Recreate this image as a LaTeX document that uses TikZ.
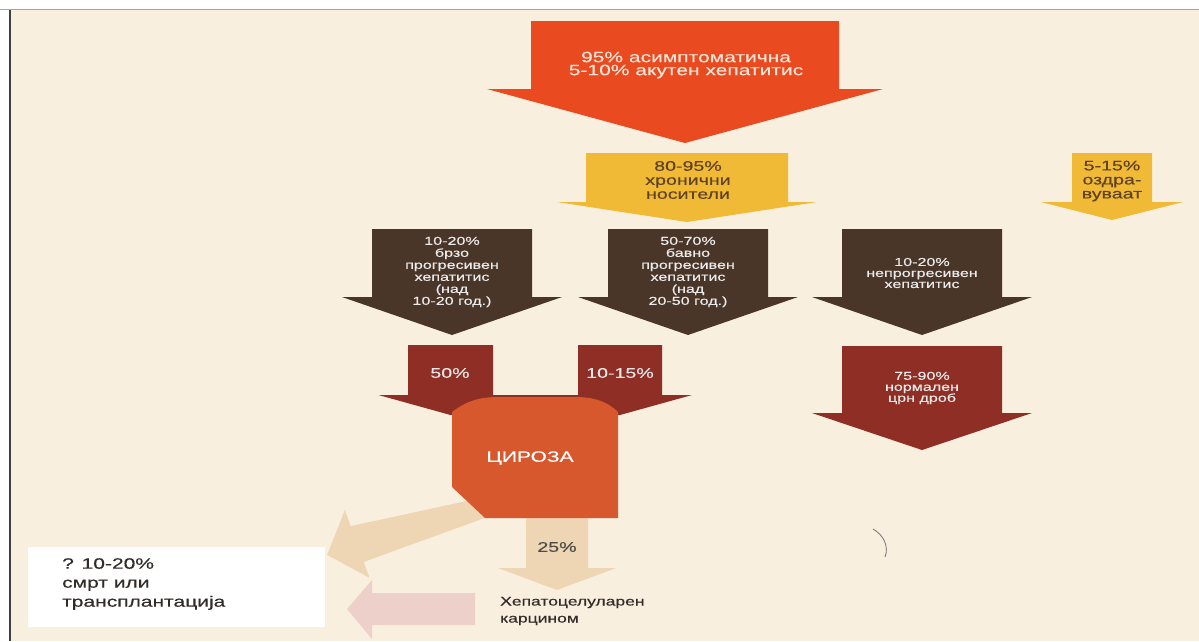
\documentclass[tikz,border=0pt]{standalone}
\usepackage{fontspec}
\setmainfont{Liberation Sans}
\newfontfamily\widesf[FakeStretch=1.4,FakeBold=0.4]{Liberation Sans}
\usepackage{tikz}

\definecolor{cream}{RGB}{248,239,222}
\definecolor{flame}{RGB}{233,74,32}
\definecolor{maize}{RGB}{240,186,54}
\definecolor{umber}{RGB}{74,54,40}
\definecolor{oxblood}{RGB}{142,46,36}
\definecolor{cirrh}{RGB}{216,88,46}
\definecolor{sand}{RGB}{238,213,180}
\definecolor{blush}{RGB}{238,208,202}
\definecolor{ink}{RGB}{48,44,40}

% block arrow pointing down: colour, centre x, top, body half width, shoulder, head half width, tip
\newcommand{\downblock}[7]{%
  \fill[#1] ({#2-#4},#3) -- ({#2+#4},#3) -- ({#2+#4},#5) -- ({#2+#6},#5)
    -- (#2,#7) -- ({#2-#6},#5) -- ({#2-#4},#5) -- cycle;}

\begin{document}
\begin{tikzpicture}[x=1pt,y=-1pt,
    every node/.style={inner sep=0pt,align=center},
    txt/.style 2 args={font=\widesf\fontsize{#1}{#2}\selectfont}]
    \useasboundingbox (0,0) rectangle (1199,641);
    % page
    \fill[white] (0,0) rectangle (1199,641);
    \fill[cream] (10,10) rectangle (1199,641);
    \draw[black!35,line width=1pt] (0,9.5) -- (1199,9.5);
    \draw[black!75,line width=1.2pt] (10,10) -- (10,641);
    % first level
    \downblock{flame}{685}{21}{154}{89}{198}{143}
    \downblock{maize}{687}{153}{101}{202}{130}{222}
    \downblock{maize}{1112}{153}{40}{202}{71}{220}
    % three courses of the chronic infection
    \foreach \x in {452,688,922} \downblock{umber}{\x}{229}{80}{297}{110}{335};
    \downblock{oxblood}{922}{346}{80}{413}{110}{450}
    % pale outlets of the cirrhosis
    \fill[sand] (488.8,496.2) -- (350.7,526.1) -- (344.9,510.2) -- (327.1,554.9)
      -- (369.5,577.8) -- (363.7,561.9) -- (495.3,514.1) -- cycle;
    \downblock{sand}{557}{505}{31}{568}{59}{590}
    \fill[blush] (475,593) -- (372,593) -- (372,580) -- (347,609) -- (372,639)
      -- (372,625) -- (475,625) -- cycle;
    % two inflows into the cirrhosis
    \downblock{oxblood}{450.5}{345}{42.5}{395}{72}{415}
    \downblock{oxblood}{620}{345}{42}{395}{72}{415}
    \fill[oxblood] (450,395) rectangle (620,415);
    \fill[cirrh] (452,412) .. controls (468,400) and (480,397) .. (500,397) -- (575,397)
      .. controls (595,397) and (608,402) .. (618,412) -- (618,518) -- (485,518)
      -- (452,487) -- cycle;
    % outcome box
    \fill[white] (28,547) rectangle (325,627);
    % stray mark of the scan
    \draw[black!55,line width=0.8pt] (873,529) .. controls (884,535) and (889,547) .. (885,557);
    % labels
    \node[txt={15}{13},text={rgb,255:red,250;green,228;blue,214}] (acute) at (686,65)
      {95\% асимптоматична\\5-10\% акутен хепатитис};
    \node[txt={14}{14},text={rgb,255:red,96;green,66;blue,36}] (carriers) at (688,180)
      {80-95\%\\хронични\\носители};
    \node[txt={14}{14},text={rgb,255:red,96;green,66;blue,36}] (recover) at (1112,181)
      {5-15\%\\оздра-\\вуваат};
    \node[txt={11.5}{12},text=white!92!black] (fast) at (452,272)
      {10-20\%\\брзо\\прогресивен\\хепатитис\\(над\\10-20 год.)};
    \node[txt={11.5}{12},text=white!92!black] (slow) at (688,272)
      {50-70\%\\бавно\\прогресивен\\хепатитис\\(над\\20-50 год.)};
    \node[txt={11.5}{11},text=white!92!black] (nonprog) at (922,273)
      {10-20\%\\непрогресивен\\хепатитис};
    \node[txt={11.5}{11},text=white!92!black] (normal) at (922,388)
      {75-90\%\\нормален\\црн дроб};
    \node[txt={14}{14},text=white!90!black] (half) at (450,373) {50\%};
    \node[txt={14}{14},text=white!90!black] (tenfifteen) at (620,373) {10-15\%};
    \node[txt={15}{15},text=white] (cirrhosis) at (530,458) {ЦИРОЗА};
    \node[txt={14}{14},text=ink!85] (hcc25) at (557,547) {25\%};
    \node[txt={12.5}{17},text=ink,align=left,anchor=west] (hcc) at (500,611)
      {Хепатоцелуларен\\карцином};
    \node[txt={15}{19},text=ink,align=left,anchor=west] (death) at (62,584)
      {? 10-20\%\\смрт или\\трансплантација};
\end{tikzpicture}
\end{document}
